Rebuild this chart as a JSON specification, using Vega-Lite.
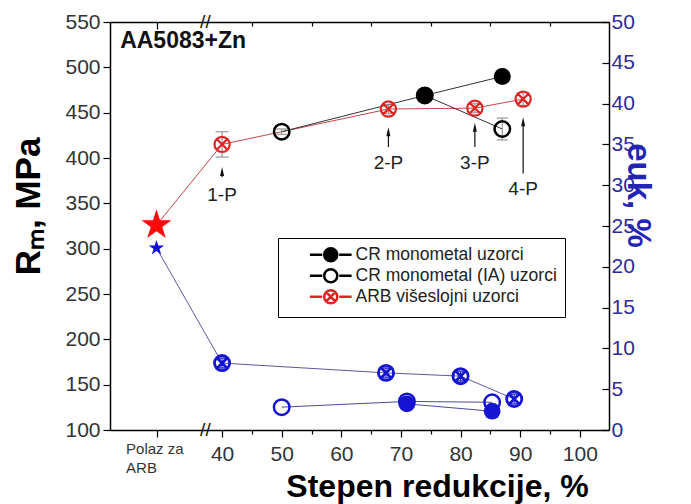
{
  "$schema": "https://vega.github.io/schema/vega-lite/v6.json",
  "width": 499,
  "height": 408,
  "autosize": {"type": "none"},
  "padding": {"left": 110, "top": 22, "right": 82, "bottom": 74},
  "background": "white",
  "config": {
    "view": {"stroke": null},
    "font": "Liberation Sans",
    "axis": {"grid": false}
  },
  "datasets": {
    "arbL": [
      {"x": 29, "v": 326},
      {"x": 40, "v": 415, "lo": 401, "hi": 429},
      {"x": 67.9, "v": 454, "lo": 449, "hi": 459},
      {"x": 82.4, "v": 455, "lo": 450, "hi": 460},
      {"x": 90.5, "v": 465, "lo": 458, "hi": 472}
    ],
    "iaL": [
      {"x": 50, "v": 429, "lo": 426, "hi": 432},
      {"x": 74, "v": 469, "lo": 463, "hi": 475},
      {"x": 87, "v": 432, "lo": 420, "hi": 444}
    ],
    "crL": [
      {"x": 74, "v": 469},
      {"x": 87, "v": 490}
    ],
    "arbR": [
      {"x": 29, "v": 22.3},
      {"x": 40, "v": 8.2, "lo": 7.6, "hi": 8.8},
      {"x": 67.5, "v": 7.0, "lo": 6.4, "hi": 7.6},
      {"x": 80, "v": 6.6, "lo": 6.0, "hi": 7.2},
      {"x": 89, "v": 3.8, "lo": 3.2, "hi": 4.4}
    ],
    "iaR": [
      {"x": 50, "v": 2.8},
      {"x": 71, "v": 3.5, "lo": 3.0, "hi": 4.0},
      {"x": 85.3, "v": 3.4}
    ],
    "crR": [
      {"x": 71, "v": 3.2},
      {"x": 85.3, "v": 2.3}
    ],
    "ann": [
      {"t": "1-P", "x": 40, "v": 359},
      {"t": "2-P", "x": 67.9, "v": 394},
      {"t": "3-P", "x": 82.4, "v": 394},
      {"t": "4-P", "x": 90.5, "v": 366}
    ],
    "arr": [
      {"x": 40, "b": 379, "h": 385},
      {"x": 67.9, "b": 412, "h": 429},
      {"x": 82.4, "b": 412, "h": 434},
      {"x": 90.5, "b": 383, "h": 440}
    ],
    "brk": [
      {"x": 37.2, "v": 550},
      {"x": 37.2, "v": 100}
    ],
    "lbl": [
      {"t": "AA5083+Zn", "x": 22.9, "v": 529}
    ],
    "polaz": [
      {"t": "Polaz za\nARB", "x": 23.9, "v": 87}
    ],
    "leg": [
      {"s": "CR monometal uzorci", "x": 0, "v": 0},
      {"s": "CR monometal (IA) uzorci", "x": 0, "v": 0},
      {"s": "ARB višeslojni uzorci", "x": 0, "v": 0}
    ]
  },
  "layer": [
    {
      "layer": [
        {
          "data": {"name": "arbL"},
          "mark": {"type": "line", "color": "#c04848", "strokeWidth": 1},
          "encoding": {
            "x": {
              "field": "x", "type": "quantitative",
              "scale": {"domain": [21.2, 104.9], "nice": false, "zero": false},
              "title": "Stepen redukcije, %",
              "axis": {
                "orient": "bottom",
                "values": [40, 50, 60, 70, 80, 90, 100],
                "tickSize": 7,
                "labelFontSize": 21,
                "labelPadding": 6,
                "labelColor": "#333333",
                "domainColor": "black",
                "domainWidth": 1.5,
                "tickColor": "black",
                "tickWidth": 1.2,
                "title": "Stepen redukcije, %",
                "titleFontSize": 32,
                "titleFontWeight": "bold",
                "titleColor": "black",
                "titleX": 327,
                "titleY": 66,
                "titleAlign": "center",
                "titleBaseline": "alphabetic"
              }
            },
            "y": {
              "field": "v", "type": "quantitative",
              "scale": {"domain": [100, 550], "nice": false, "zero": false},
              "title": "Rₘ, MPa",
              "axis": {
                "orient": "left",
                "values": [100, 125, 150, 175, 200, 225, 250, 275, 300, 325, 350, 375, 400, 425, 450, 475, 500, 525, 550],
                "labelExpr": "datum.value % 50 == 0 ? datum.label : ''",
                "tickSize": {"condition": {"test": "datum.value % 50 != 0", "value": 4}, "value": 7},
                "labelFontSize": 21,
                "labelColor": "#333333",
                "labelPadding": 3,
                "labelOverlap": false,
                "domainColor": "black",
                "domainWidth": 1.5,
                "tickColor": "black",
                "tickWidth": 1.2,
                "title": "Rₘ, MPa",
                "titleFontSize": 35,
                "titleFontWeight": "bold",
                "titleColor": "black",
                "titleX": -82,
                "titleY": 184,
                "titleAngle": 270,
                "titleAlign": "center",
                "titleBaseline": "middle"
              }
            }
          }
        },
        {
          "data": {"name": "iaL"},
          "mark": {"type": "line", "color": "#333333", "strokeWidth": 1},
          "encoding": {
            "x": {"field": "x", "type": "quantitative", "title": "Stepen redukcije, %"},
            "y": {"field": "v", "type": "quantitative", "title": "Rₘ, MPa"}
          }
        },
        {
          "data": {"name": "crL"},
          "mark": {"type": "line", "color": "#333333", "strokeWidth": 1},
          "encoding": {
            "x": {"field": "x", "type": "quantitative", "title": "Stepen redukcije, %"},
            "y": {"field": "v", "type": "quantitative", "title": "Rₘ, MPa"}
          }
        },
        {
          "data": {"name": "arbL"},
          "transform": [{"filter": "isValid(datum.lo)"}],
          "mark": {"type": "errorbar", "ticks": {"size": 13, "thickness": 1.5}, "color": "#888888"},
          "encoding": {
            "x": {"field": "x", "type": "quantitative", "title": "Stepen redukcije, %"},
            "y": {"field": "lo", "type": "quantitative", "title": "Rₘ, MPa"},
            "y2": {"field": "hi"}
          }
        },
        {
          "data": {"name": "iaL"},
          "mark": {"type": "errorbar", "ticks": {"size": 11, "thickness": 1.5}, "color": "#888888"},
          "encoding": {
            "x": {"field": "x", "type": "quantitative", "title": "Stepen redukcije, %"},
            "y": {"field": "lo", "type": "quantitative", "title": "Rₘ, MPa"},
            "y2": {"field": "hi"}
          }
        },
        {
          "data": {"name": "crL"},
          "mark": {"type": "point", "shape": "circle", "filled": true, "color": "black", "size": 290, "opacity": 1},
          "encoding": {
            "x": {"field": "x", "type": "quantitative", "title": "Stepen redukcije, %"},
            "y": {"field": "v", "type": "quantitative", "title": "Rₘ, MPa"}
          }
        },
        {
          "data": {"name": "iaL"},
          "mark": {"type": "point", "shape": "circle", "filled": false, "color": "black", "strokeWidth": 2.5, "size": 240, "opacity": 1},
          "encoding": {
            "x": {"field": "x", "type": "quantitative", "title": "Stepen redukcije, %"},
            "y": {"field": "v", "type": "quantitative", "title": "Rₘ, MPa"}
          }
        },
        {
          "data": {"name": "arbL"},
          "transform": [{"filter": "datum.x > 35"}],
          "mark": {"type": "point", "shape": "M-1,0A1,1,0,1,0,1,0A1,1,0,1,0,-1,0ZM-0.7,-0.7L0.7,0.7M-0.7,0.7L0.7,-0.7", "filled": false, "color": "#e02424", "strokeWidth": 2.2, "size": 230, "opacity": 1},
          "encoding": {
            "x": {"field": "x", "type": "quantitative", "title": "Stepen redukcije, %"},
            "y": {"field": "v", "type": "quantitative", "title": "Rₘ, MPa"}
          }
        },
        {
          "data": {"name": "arbL"},
          "transform": [{"filter": "datum.x < 35"}],
          "mark": {"type": "point", "shape": "M0,-1L0.2245,-0.309L0.9511,-0.309L0.3633,0.118L0.5878,0.809L0,0.382L-0.5878,0.809L-0.3633,0.118L-0.9511,-0.309L-0.2245,-0.309Z", "filled": true, "color": "#ff0a0a", "size": 1000, "opacity": 1},
          "encoding": {
            "x": {"field": "x", "type": "quantitative", "title": "Stepen redukcije, %"},
            "y": {"field": "v", "type": "quantitative", "title": "Rₘ, MPa"}
          }
        },
        {
          "data": {"name": "arr"},
          "mark": {"type": "rule", "color": "#111111", "strokeWidth": 1.2},
          "encoding": {
            "x": {"field": "x", "type": "quantitative", "title": "Stepen redukcije, %"},
            "y": {"field": "b", "type": "quantitative", "title": "Rₘ, MPa"},
            "y2": {"field": "h"}
          }
        },
        {
          "data": {"name": "arr"},
          "mark": {"type": "point", "shape": "M0,-1L0.45,1L-0.45,1Z", "filled": true, "color": "#111111", "size": 81, "opacity": 1},
          "encoding": {
            "x": {"field": "x", "type": "quantitative", "title": "Stepen redukcije, %"},
            "y": {"field": "h", "type": "quantitative", "title": "Rₘ, MPa"}
          }
        },
        {
          "data": {"name": "ann"},
          "mark": {"type": "text", "fontSize": 19, "color": "#222222", "align": "center", "baseline": "middle"},
          "encoding": {
            "x": {"field": "x", "type": "quantitative", "title": "Stepen redukcije, %"},
            "y": {"field": "v", "type": "quantitative", "title": "Rₘ, MPa"},
            "text": {"field": "t"}
          }
        },
        {
          "data": {"name": "lbl"},
          "mark": {"type": "text", "fontSize": 23, "fontWeight": "bold", "color": "#111111", "align": "left", "baseline": "middle"},
          "encoding": {
            "x": {"field": "x", "type": "quantitative", "title": "Stepen redukcije, %"},
            "y": {"field": "v", "type": "quantitative", "title": "Rₘ, MPa"},
            "text": {"field": "t"}
          }
        },
        {
          "data": {"name": "polaz"},
          "mark": {"type": "text", "fontSize": 15, "color": "#333333", "align": "left", "baseline": "top", "lineBreak": "\n", "lineHeight": 19, "clip": false},
          "encoding": {
            "x": {"field": "x", "type": "quantitative", "title": "Stepen redukcije, %"},
            "y": {"field": "v", "type": "quantitative", "title": "Rₘ, MPa"},
            "text": {"field": "t"}
          }
        },
        {
          "data": {"name": "brk"},
          "mark": {"type": "text", "text": "//", "fontSize": 19, "color": "#111111", "align": "center", "baseline": "middle"},
          "encoding": {
            "x": {"field": "x", "type": "quantitative", "title": "Stepen redukcije, %"},
            "y": {"field": "v", "type": "quantitative", "title": "Rₘ, MPa"}
          }
        },
        {
          "data": {"name": "leg"},
          "mark": {"type": "point", "clip": true, "opacity": 1, "strokeWidth": 2.5},
          "encoding": {
            "x": {"field": "x", "type": "quantitative", "title": "Stepen redukcije, %"},
            "y": {"field": "v", "type": "quantitative", "title": "Rₘ, MPa"},
            "shape": {
              "field": "s", "type": "nominal",
              "scale": {
                "domain": ["CR monometal uzorci", "CR monometal (IA) uzorci", "ARB višeslojni uzorci"],
                "range": [
                  "M-3.2,0L-1.3,0M1.3,0L3.2,0M1,0A1,1,0,0,1,0,1A1,1,0,0,1,-1,0A1,1,0,0,1,0,-1A1,1,0,0,1,1,0Z",
                  "M-3.2,0L-1.3,0M1.3,0L3.2,0M1,0A1,1,0,0,1,0,1A1,1,0,0,1,-1,0A1,1,0,0,1,0,-1A1,1,0,0,1,1,0Z",
                  "M-3.2,0L-1.3,0M1.3,0L3.2,0M1,0A1,1,0,0,1,0,1A1,1,0,0,1,-1,0A1,1,0,0,1,0,-1A1,1,0,0,1,1,0ZM-0.7,-0.7L0.7,0.7M-0.7,0.7L0.7,-0.7"
                ]
              },
              "legend": {
                "title": null,
                "orient": "none",
                "legendX": 168,
                "legendY": 216,
                "padding": 8,
                "symbolOffset": 36,
                "labelOffset": 16,
                "labelFontSize": 17.5,
                "labelLimit": 400,
                "labelColor": "#222222",
                "strokeColor": "black",
                "rowPadding": -3,
                "symbolSize": 170,
                "symbolStrokeWidth": 2.5
              }
            },
            "fill": {
              "field": "s", "type": "nominal",
              "scale": {
                "domain": ["CR monometal uzorci", "CR monometal (IA) uzorci", "ARB višeslojni uzorci"],
                "range": ["black", "white", "transparent"]
              },
              "legend": {"title": null}
            },
            "stroke": {
              "field": "s", "type": "nominal",
              "scale": {
                "domain": ["CR monometal uzorci", "CR monometal (IA) uzorci", "ARB višeslojni uzorci"],
                "range": ["black", "black", "#e02424"]
              },
              "legend": {"title": null}
            }
          }
        }
      ]
    },
    {
      "layer": [
        {
          "data": {"name": "arbR"},
          "mark": {"type": "line", "color": "#5a5aa0", "strokeWidth": 1},
          "encoding": {
            "x": {
              "field": "x", "type": "quantitative",
              "title": null,
              "axis": {
                "orient": "top",
                "values": [29, 40, 45, 50, 55, 60, 65, 70, 75, 80, 85, 90, 95, 100],
                "labels": false,
                "tickSize": {"condition": {"test": "datum.value % 10 == 5", "value": -4}, "value": -7},
                "domainColor": "black",
                "domainWidth": 1.5,
                "tickColor": "black",
                "tickWidth": 1.2,
                "title": null
              }
            },
            "y": {
              "field": "v", "type": "quantitative",
              "scale": {"domain": [0, 50], "nice": false},
              "title": "euk, %",
              "axis": {
                "orient": "right",
                "values": [0, 2.5, 5, 7.5, 10, 12.5, 15, 17.5, 20, 22.5, 25, 27.5, 30, 32.5, 35, 37.5, 40, 42.5, 45, 47.5, 50],
                "labelExpr": "datum.value % 5 == 0 ? datum.label : ''",
                "tickSize": {"condition": {"test": "datum.value % 5 != 0", "value": -4}, "value": -7},
                "labelFontSize": 21,
                "labelColor": "#2b2b9b",
                "labelPadding": 9,
                "labelOverlap": false,
                "domainColor": "black",
                "domainWidth": 1.5,
                "tickColor": "black",
                "tickWidth": 1.2,
                "title": "euk, %",
                "titleFontSize": 33,
                "titleFontWeight": "bold",
                "titleColor": "#2323b5",
                "titleX": 28,
                "titleY": 173,
                "titleAngle": 90,
                "titleAlign": "center",
                "titleBaseline": "middle"
              }
            }
          }
        },
        {
          "data": {"name": "iaR"},
          "mark": {"type": "line", "color": "#4a4aa0", "strokeWidth": 1},
          "encoding": {
            "x": {"field": "x", "type": "quantitative", "title": null},
            "y": {"field": "v", "type": "quantitative", "title": "euk, %"}
          }
        },
        {
          "data": {"name": "crR"},
          "mark": {"type": "line", "color": "#4a4aa0", "strokeWidth": 1},
          "encoding": {
            "x": {"field": "x", "type": "quantitative", "title": null},
            "y": {"field": "v", "type": "quantitative", "title": "euk, %"}
          }
        },
        {
          "data": {"name": "arbR"},
          "transform": [{"filter": "isValid(datum.lo)"}],
          "mark": {"type": "errorbar", "ticks": {"size": 13, "thickness": 2}, "color": "#2020c0"},
          "encoding": {
            "x": {"field": "x", "type": "quantitative", "title": null},
            "y": {"field": "lo", "type": "quantitative", "title": "euk, %"},
            "y2": {"field": "hi"}
          }
        },
        {
          "data": {"name": "crR"},
          "mark": {"type": "point", "shape": "circle", "filled": true, "color": "#1414d2", "size": 280, "opacity": 1},
          "encoding": {
            "x": {"field": "x", "type": "quantitative", "title": null},
            "y": {"field": "v", "type": "quantitative", "title": "euk, %"}
          }
        },
        {
          "data": {"name": "iaR"},
          "mark": {"type": "point", "shape": "circle", "filled": false, "color": "#1414d2", "strokeWidth": 2.5, "size": 240, "opacity": 1},
          "encoding": {
            "x": {"field": "x", "type": "quantitative", "title": null},
            "y": {"field": "v", "type": "quantitative", "title": "euk, %"}
          }
        },
        {
          "data": {"name": "arbR"},
          "transform": [{"filter": "datum.x > 35"}],
          "mark": {"type": "point", "shape": "M-1,0A1,1,0,1,0,1,0A1,1,0,1,0,-1,0ZM-0.7,-0.7L0.7,0.7M-0.7,0.7L0.7,-0.7", "filled": false, "color": "#1414d2", "strokeWidth": 2.8, "size": 230, "opacity": 1},
          "encoding": {
            "x": {"field": "x", "type": "quantitative", "title": null},
            "y": {"field": "v", "type": "quantitative", "title": "euk, %"}
          }
        },
        {
          "data": {"name": "arbR"},
          "transform": [{"filter": "datum.x < 35"}],
          "mark": {"type": "point", "shape": "M0,-1L0.2245,-0.309L0.9511,-0.309L0.3633,0.118L0.5878,0.809L0,0.382L-0.5878,0.809L-0.3633,0.118L-0.9511,-0.309L-0.2245,-0.309Z", "filled": true, "color": "#0c0ce6", "size": 260, "opacity": 1},
          "encoding": {
            "x": {"field": "x", "type": "quantitative", "title": null},
            "y": {"field": "v", "type": "quantitative", "title": "euk, %"}
          }
        }
      ]
    },
    {
      "data": {"name": "brk"},
      "mark": {"type": "rule", "opacity": 0},
      "encoding": {
        "x": {
          "field": "x", "type": "quantitative",
          "title": null,
          "axis": {
            "orient": "bottom",
            "values": [29, 45, 55, 65, 75, 85, 95],
            "labels": false,
            "domain": false,
            "tickSize": {"condition": {"test": "datum.value == 29", "value": 7}, "value": 4},
            "tickColor": "black",
            "tickWidth": 1.2,
            "title": null
          }
        }
      }
    }
  ],
  "resolve": {"scale": {"y": "independent"}, "axis": {"x": "independent"}}
}
